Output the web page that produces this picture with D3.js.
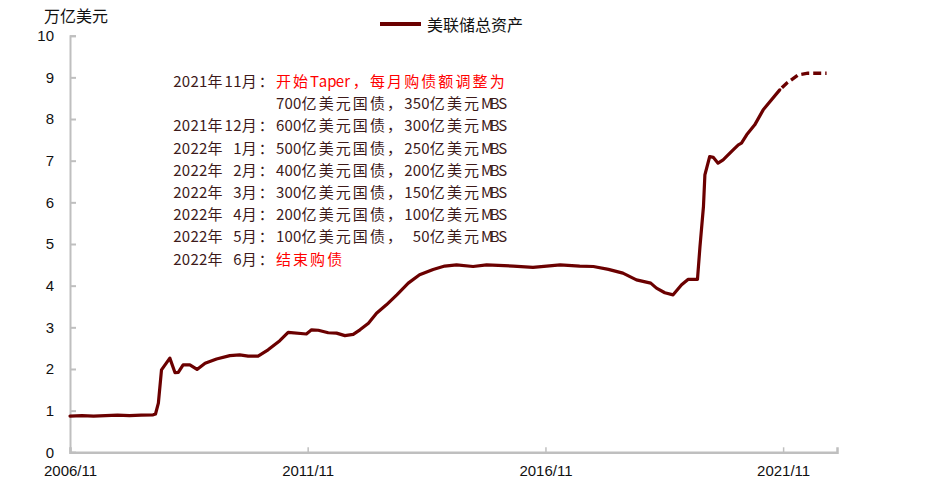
<!DOCTYPE html>
<html>
<head>
<meta charset="utf-8">
<script src="https://cdn.jsdelivr.net/npm/d3@7/dist/d3.min.js"></script>
<style>
  html, body { margin: 0; padding: 0; background: #fff; }
  svg { display: block; }
</style>
</head>
<body>
<svg id="chart" width="932" height="485"></svg>
<script>
// ---------------- DATA ----------------
const seriesName = "美联储总资产";
const yAxisTitle = "万亿美元";

// actual (solid) series
const actualDates = [
  "2006-11-01","2007-02-01","2007-05-01","2007-08-01","2007-11-01","2008-02-01","2008-05-01","2008-08-01",
  "2008-08-19","2008-09-10","2008-10-04","2008-12-07","2009-01-16","2009-02-10","2009-03-19","2009-05-10",
  "2009-07-04","2009-09-04","2009-12-01","2010-03-13","2010-05-28","2010-08-01","2010-10-16","2011-01-01",
  "2011-04-01","2011-06-04","2011-10-22","2011-12-01","2012-01-22","2012-04-07","2012-06-10","2012-08-13",
  "2012-10-16","2012-12-07","2013-02-10","2013-04-13","2013-06-28","2013-09-16","2013-12-13","2014-03-10",
  "2014-06-22","2014-09-19","2014-12-19","2015-04-25","2015-08-07","2016-02-28","2016-07-28","2016-11-10",
  "2017-02-22","2017-07-22","2017-11-04","2018-02-28","2018-06-19","2018-10-01","2019-01-19","2019-03-04",
  "2019-05-07","2019-07-10","2019-09-13","2019-11-01","2020-01-13","2020-02-01","2020-02-28","2020-03-10",
  "2020-04-16","2020-05-13","2020-06-19","2020-07-28","2020-10-13","2020-11-22","2020-12-16","2021-01-25",
  "2021-03-28","2021-06-01","2021-10-06"
];
const actualValues = [
  0.87,0.88,0.87,0.88,0.89,0.88,0.89,0.90,
  0.92,1.18,1.98,2.26,1.91,1.92,2.10,2.10,
  1.99,2.14,2.24,2.32,2.34,2.31,2.31,2.46,
  2.68,2.88,2.84,2.94,2.93,2.87,2.86,2.80,
  2.83,2.94,3.10,3.34,3.54,3.78,4.06,4.26,
  4.39,4.47,4.50,4.46,4.50,4.47,4.44,4.47,
  4.50,4.47,4.46,4.39,4.30,4.14,4.06,3.94,
  3.83,3.78,4.02,4.15,4.15,4.93,5.90,6.66,
  7.10,7.08,6.94,7.02,7.26,7.38,7.42,7.62,
  7.86,8.22,8.70
];

// projected (dashed) series
const projDates = ["2021-10-06","2021-11-28","2022-02-25","2022-05-10","2022-10-01"];
const projValues = [8.70, 8.86, 9.06, 9.10, 9.10];

// axes
const xDomain = ["2006-11-01", "2022-12-20"];
const xTickDates = ["2006-11-01","2011-11-01","2016-11-01","2021-11-01"];
const yTicks = [0,1,2,3,4,5,6,7,8,9,10];

// annotation
const noteLabels = ["2021年11月：","","2021年12月：","2022年 1月：","2022年 2月：","2022年 3月：","2022年 4月：","2022年 5月：","2022年 6月："];
const noteTexts = ["开始Taper，每月购债额调整为","700亿美元国债，350亿美元MBS","600亿美元国债，300亿美元MBS",
  "500亿美元国债，250亿美元MBS","400亿美元国债，200亿美元MBS","300亿美元国债，150亿美元MBS",
  "200亿美元国债，100亿美元MBS","100亿美元国债， 50亿美元MBS","结束购债"];
const noteHighlight = [true,false,false,false,false,false,false,false,true];

// ---------------- CHART ----------------
const parse = d3.timeParse("%Y-%m-%d");
const lineColor = "#6b0000";
const axisColor = "#bfbfbf";
const svg = d3.select("#chart");
svg.append("rect").attr("width", 932).attr("height", 485).attr("fill", "#fff");

const x = d3.scaleTime().domain(xDomain.map(parse)).range([70, 837]);
const y = d3.scaleLinear().domain([0, 10]).range([452.3, 35.7]);

// Y axis
const yAxis = d3.axisLeft(y).tickValues(yTicks).tickSize(-6).tickPadding(16).tickFormat(d3.format("d"));
const gy = svg.append("g").attr("transform", "translate(70,0)").call(yAxis);
gy.select(".domain").attr("stroke", axisColor).attr("stroke-width", 2);
gy.selectAll(".tick line").attr("stroke", axisColor).attr("stroke-width", 2);
gy.selectAll(".tick text").attr("fill", "#111").attr("font-family", "Arial, 'Liberation Sans', sans-serif").attr("font-size", 15).attr("x", -16);

// X axis
const xAxis = d3.axisBottom(x).tickValues(xTickDates.map(parse)).tickSize(-5).tickPadding(13).tickFormat(d3.timeFormat("%Y/%m"));
const gx = svg.append("g").attr("transform", "translate(0,452.3)").call(xAxis);
gx.select(".domain").attr("stroke", axisColor).attr("stroke-width", 2.5);
gx.selectAll(".tick line").attr("stroke", axisColor).attr("stroke-width", 1.5);
gx.selectAll(".tick text").attr("fill", "#111").attr("font-family", "Arial, 'Liberation Sans', sans-serif").attr("font-size", 15);

// Y title
svg.append("text").attr("x", 44).attr("y", 22).attr("font-family", "'Noto Sans CJK SC', sans-serif")
  .attr("font-size", 16).attr("fill", "#111").text(yAxisTitle);

// Lines
const line = d3.line().x(d => x(d[0])).y(d => y(d[1])).curve(d3.curveLinear);
const actual = actualDates.map((d, i) => [parse(d), actualValues[i]]);
const proj = projDates.map((d, i) => [parse(d), projValues[i]]);

svg.append("path").datum(actual).attr("d", line).attr("fill", "none")
  .attr("stroke", lineColor).attr("stroke-width", 3.2).attr("stroke-linejoin", "round").attr("stroke-linecap", "round");
svg.append("path").datum(proj).attr("d", line).attr("fill", "none")
  .attr("stroke", lineColor).attr("stroke-width", 3.4).attr("stroke-dasharray", "8,4").attr("stroke-dashoffset", -3);

// Legend
svg.append("line").attr("x1", 380).attr("x2", 421).attr("y1", 24).attr("y2", 24)
  .attr("stroke", lineColor).attr("stroke-width", 4);
svg.append("text").attr("x", 427).attr("y", 24).attr("dominant-baseline", "central")
  .attr("font-family", "'Noto Sans CJK SC', sans-serif").attr("font-size", 16).attr("fill", "#111").text(seriesName);

// Annotation (monospaced cell layout)
const cell = 8.55, noteX = 173.3, noteY0 = 80, noteDy = 22.2;
const isWide = ch => ch.charCodeAt(0) > 0x2e80;
function positions(str, startCell) {
  let c = startCell; const xs = [];
  for (const ch of str) { xs.push((noteX + c * cell).toFixed(2)); c += isWide(ch) ? 2 : 1; }
  return xs.join(" ");
}
const note = svg.append("g").attr("font-family", "'Noto Sans CJK SC', sans-serif").attr("font-size", 15)
  .style("white-space", "pre");
noteLabels.forEach((lab, i) => {
  const t = note.append("text").attr("y", noteY0 + i * noteDy).attr("dominant-baseline", "central");
  if (lab.length) t.append("tspan").attr("x", positions(lab, 0)).attr("fill", "#3d1a1a").text(lab);
  t.append("tspan").attr("x", positions(noteTexts[i], 12))
    .attr("fill", noteHighlight[i] ? "#ff0000" : "#3d1a1a").text(noteTexts[i]);
});
</script>
</body>
</html>
